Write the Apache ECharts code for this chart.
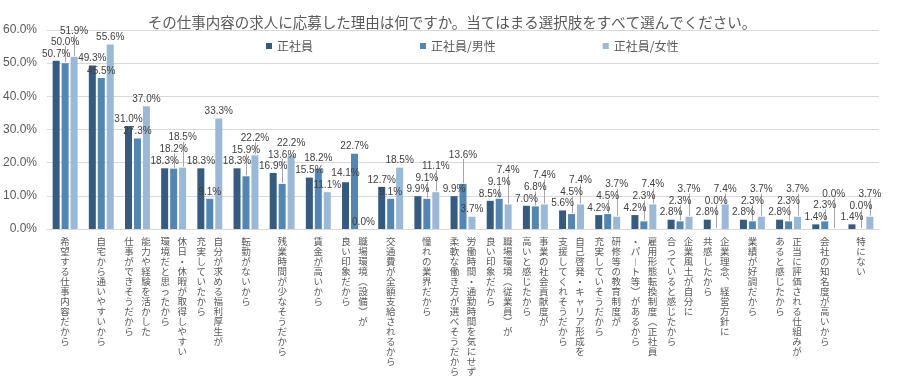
<!DOCTYPE html>
<html>
<head>
<meta charset="utf-8">
<script src="https://cdn.jsdelivr.net/npm/echarts@6/dist/echarts.min.js"></script>
<style>html,body{margin:0;padding:0;background:#fff;}#c{width:904px;height:378px;}</style>
</head>
<body>
<div id="c"></div>
<script>
const titleText = 'その仕事内容の求人に応募した理由は何ですか。当てはまる選択肢をすべて選んでください。';
const seriesNames = ['正社員', '正社員/男性', '正社員/女性'];
// category labels; '\n' separates vertical columns (right column first)
const categories = [
  '希望する仕事内容だから',
  '自宅から通いやすいから',
  '能力や経験を活かした\n仕事ができそうだから',
  '休日・休暇が取得しやすい\n環境だと思ったから',
  '自分が求める福利厚生が\n充実していたから',
  '転勤がないから',
  '残業時間が少なそうだから',
  '賃金が高いから',
  '職場環境（設備）が\n良い印象だから',
  '交通費が全額支給されるから',
  '憧れの業界だから',
  '労働時間・通勤時間を気にせず\n柔軟な働き方が選べそうだから',
  '職場環境（従業員）が\n良い印象だから',
  '事業の社会貢献度が\n高いと感じたから',
  '自己啓発・キャリア形成を\n支援してくれそうだから',
  '研修等の教育制度が\n充実していそうだから',
  '雇用形態転換制度（正社員\n・パート等）があるから',
  '企業風土が自分に\n合っていると感じたから',
  '企業理念、経営方針に\n共感したから',
  '業績が好調だから',
  '正当に評価される仕組みが\nあると感じたから',
  '会社の知名度が高いから',
  '特にない'
];
const valuesAll = [50.7, 49.3, 31.0, 18.3, 18.3, 18.3, 16.9, 15.5, 14.1, 12.7, 9.9, 9.9, 8.5, 7.0, 5.6, 4.2, 4.2, 2.8, 2.8, 2.8, 2.8, 1.4, 1.4];
const valuesMale = [50.0, 45.5, 27.3, 18.2, 9.1, 15.9, 13.6, 18.2, 22.7, 9.1, 9.1, 13.6, 9.1, 6.8, 4.5, 4.5, 2.3, 2.3, 0.0, 2.3, 2.3, 2.3, 0.0];
const valuesFemale = [51.9, 55.6, 37.0, 18.5, 33.3, 22.2, 22.2, 11.1, 0.0, 18.5, 11.1, 3.7, 7.4, 7.4, 7.4, 3.7, 7.4, 3.7, 7.4, 3.7, 3.7, 0.0, 3.7];
const yTicks = [0, 10, 20, 30, 40, 50, 60];

const allValues = [valuesAll, valuesMale, valuesFemale];
const colors = ['#365b80', '#5287b5', '#9ab8d7'];
const vmap = {'（': '︵', '）': '︶', '、': '︑', 'ー': '︱'};
const LABEL_FONT = '10px "Liberation Sans", Arial, sans-serif';
const BAR_W = 7, BAR_GAP = 0.28;

function verticalLabel(text) {
  const cols = text.split('\n').map(s => Array.from(s).map(ch => vmap[ch] || ch));
  const n = Math.max(...cols.map(c => c.length));
  const lines = [];
  for (let i = 0; i < n; i++) {
    let line = '';
    for (let j = cols.length - 1; j >= 0; j--) {
      line += '{c|' + (cols[j][i] || '　') + '}';
    }
    lines.push(line);
  }
  return lines.join('\n');
}
const fmt = v => v.toFixed(1) + '%';

const chart = echarts.init(document.getElementById('c'), null, {renderer: 'canvas'});
const placedMap = {};

function mk(name, data, i) {
  return {
    name: name,
    type: 'bar',
    z: 3,
    data: data.slice(),
    barWidth: BAR_W,
    barGap: (BAR_GAP * 100) + '%',
    itemStyle: {color: colors[i]},
    label: {
      show: true,
      position: 'top',
      distance: 2,
      fontSize: 10,
      color: '#404040',
      fontFamily: '"Liberation Sans", Arial, sans-serif',
      formatter: p => fmt(p.value)
    },
    labelLayout: function (params) {
      const p = placedMap[params.seriesIndex + '_' + params.dataIndex];
      if (!p) return {};
      return {x: p.cx, y: p.bottom, align: 'center', verticalAlign: 'bottom'};
    }
  };
}

function buildOption(leaders) {
  return {
    animation: false,
    title: {
      text: titleText,
      left: 'center',
      top: 10,
      textStyle: {fontSize: 14.5, fontWeight: 'normal', color: '#595959', fontFamily: 'Noto Sans CJK JP'}
    },
    legend: {
      data: seriesNames,
      left: 261,
      top: 35,
      itemWidth: 6,
      itemHeight: 6,
      itemGap: 107,
      icon: 'rect',
      textStyle: {fontSize: 12, color: '#595959', fontFamily: 'Noto Sans CJK JP'}
    },
    grid: {left: 46, right: 25, top: 30, bottom: 149},
    graphic: {elements: leaders},
    xAxis: {
      type: 'category',
      data: categories,
      axisLine: {lineStyle: {color: '#d9d9d9'}},
      axisTick: {show: false},
      axisLabel: {
        interval: 0,
        margin: 7,
        verticalAlign: 'top',
        formatter: v => verticalLabel(v),
        rich: {
          c: {width: 17, align: 'center', fontSize: 9.5, lineHeight: 10, color: '#595959', fontFamily: 'Noto Sans CJK JP'}
        }
      }
    },
    yAxis: {
      type: 'value',
      min: yTicks[0],
      max: yTicks[yTicks.length - 1],
      interval: 10,
      axisLine: {show: false},
      axisTick: {show: false},
      splitLine: {lineStyle: {color: '#d9d9d9'}},
      axisLabel: {
        fontSize: 12,
        color: '#595959',
        margin: 10,
        fontFamily: '"Liberation Sans", Arial, sans-serif',
        formatter: v => v.toFixed(1) + '%'
      }
    },
    series: seriesNames.map((n, i) => mk(n, allValues[i], i))
  };
}

chart.setOption(buildOption([]));

// compute staggered label positions (avoid overlaps by pushing labels upward)
const ctx = document.createElement('canvas').getContext('2d');
ctx.font = LABEL_FONT;
const placed = [];
const LH = 11;
const step = BAR_W * (1 + BAR_GAP);
const leaderLines = [];
for (let i = 0; i < categories.length; i++) {
  for (let s = 0; s < allValues.length; s++) {
    const v = allValues[s][i];
    const pt = chart.convertToPixel({xAxisIndex: 0, yAxisIndex: 0}, [i, v]);
    const cx = pt[0] + (s - 1) * step;
    const barTop = pt[1];
    const w = ctx.measureText(fmt(v)).width + 1;
    let bottom = barTop - 2;
    const natural = bottom;
    const overlaps = b => placed.some(r =>
      cx - w / 2 < r.x2 && cx + w / 2 > r.x1 && b - LH < r.y2 && b > r.y1);
    while (overlaps(bottom) && bottom > 0) bottom -= 1;
    placed.push({x1: cx - w / 2, x2: cx + w / 2, y1: bottom - LH, y2: bottom});
    placedMap[s + '_' + i] = {cx: cx, bottom: bottom, barTop: barTop, moved: natural - bottom};
    if (natural - bottom > 5) {
      leaderLines.push({
        type: 'line',
        silent: true,
        z: 1,
        shape: {x1: Math.round(cx) + 0.5, y1: barTop - 1, x2: Math.round(cx) + 0.5, y2: bottom - 1},
        style: {stroke: '#a6a6a6', lineWidth: 1}
      });
    }
  }
}
chart.clear();
chart.setOption(buildOption(leaderLines), true);
</script>
</body>
</html>
